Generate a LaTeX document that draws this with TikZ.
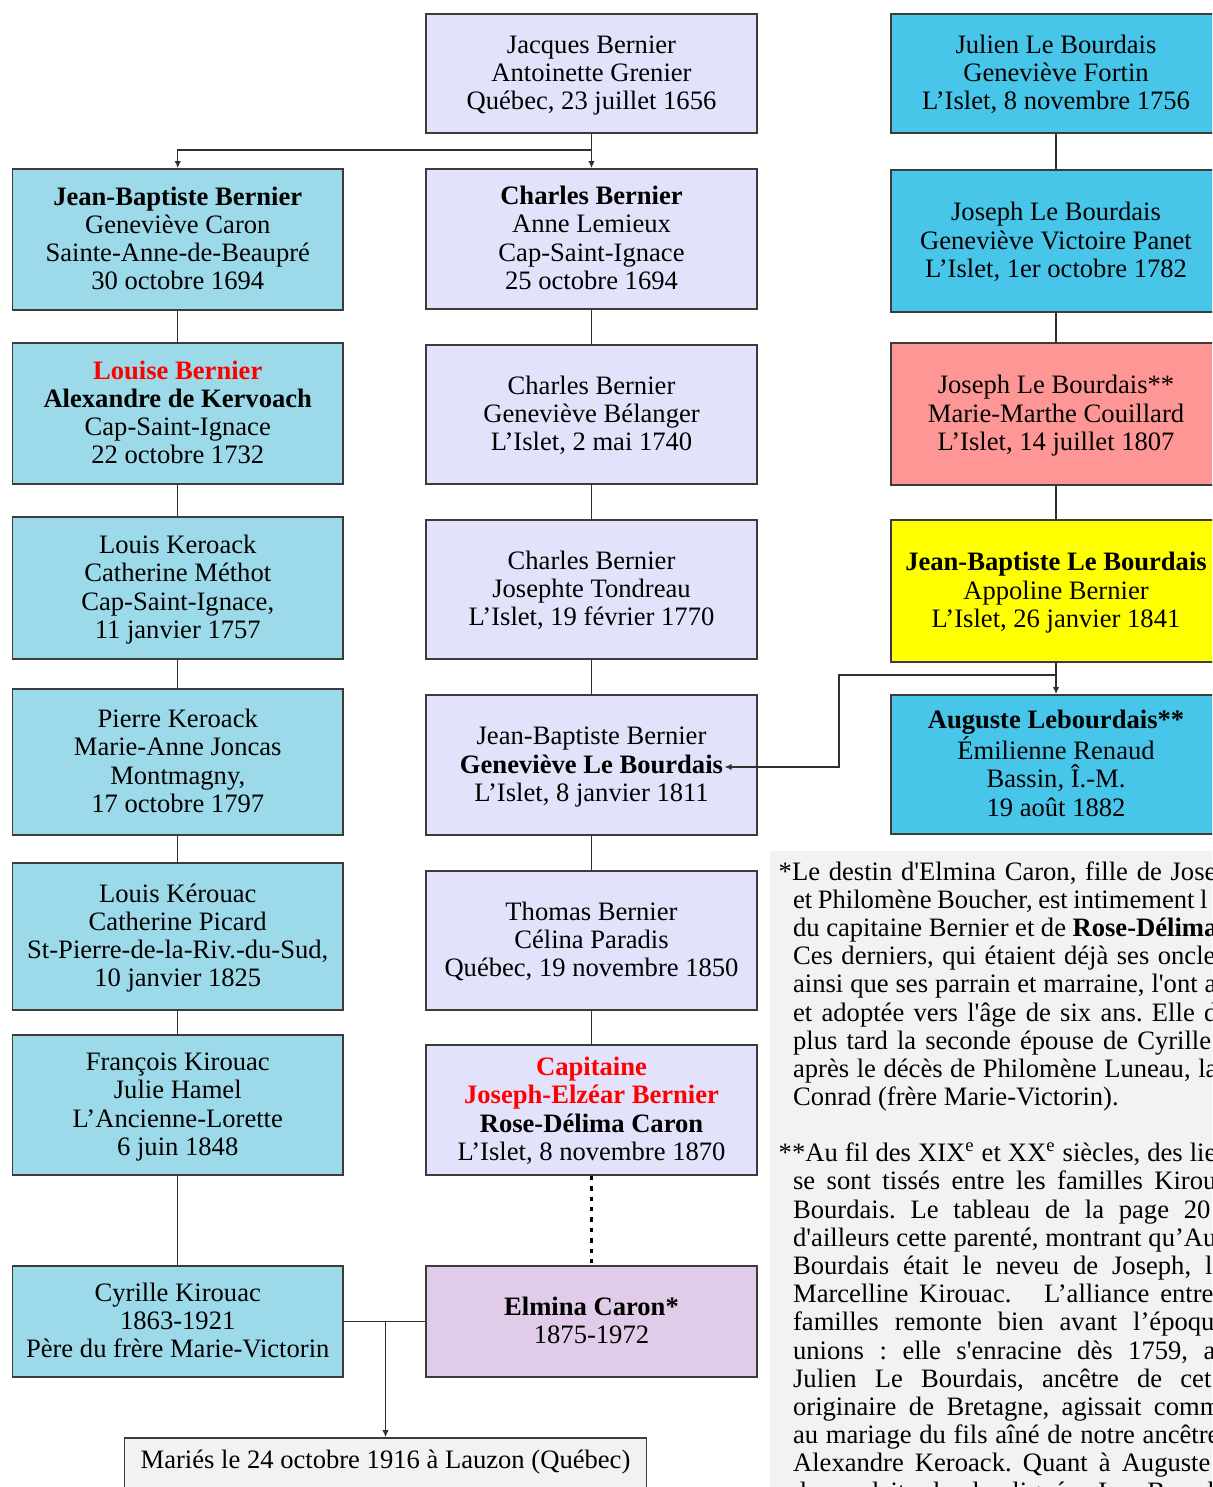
\documentclass[tikz,border=0pt]{standalone}
\usepackage{fontspec}
\setmainfont{Liberation Serif}
\usetikzlibrary{arrows.meta}
\definecolor{cA}{HTML}{9CDAEA}
\definecolor{cB}{HTML}{E2E2FB}
\definecolor{cC}{HTML}{47C6EA}
\definecolor{cPink}{HTML}{FF9696}
\definecolor{cYel}{HTML}{FFFF00}
\definecolor{cEl}{HTML}{E0CBE8}
\definecolor{cGrey}{HTML}{F2F2F2}
\definecolor{bordc}{HTML}{3C3C3C}
\definecolor{linec}{HTML}{303030}
\definecolor{redt}{HTML}{FF0000}
\newcommand\fs{\fontsize{13.3}{14.15}\selectfont\frenchspacing}
\newcommand\sq{\textquotesingle}
\newcommand\rb[1]{\textcolor{redt}{\textbf{#1}}}
\newcommand\ftop{\rule{0pt}{11.5pt}}
\newcommand\fbot{\rule[-3.5pt]{0pt}{3.5pt}}
\begin{document}
\begin{tikzpicture}[x=0.5pt,y=-0.5pt,
  fam/.style={draw=bordc, line width=0.75pt, inner sep=0pt, align=center, font=\fs},
  colA/.style={fam, fill=cA, minimum width=165.25pt},
  colB/.style={fam, fill=cB, minimum width=165.5pt},
  colC/.style={fam, fill=cC, minimum width=165pt},
  conn/.style={draw=linec, line width=0.7pt},
  arr/.style={conn, -{Latex[length=3.6pt,width=3.2pt]}},
  dotl/.style={draw=black, line width=1.85pt, dash pattern=on 2.2pt off 3pt},
  ln/.style={anchor=base west, inner sep=0pt, font=\fs}]
\useasboundingbox (0,0) rectangle (1212,1487);
\fill[white] (0,0) rectangle (1212,1487);
\begin{scope}
\clip (0,0) rectangle (1212,1487);
% ---------- column 1
\node[colA, minimum height=70.5pt] (jb) at (177.75,239.5) {\ftop\textbf{Jean-Baptiste Bernier}\\Geneviève Caron\\Sainte-Anne-de-Beaupré\\30 octobre 1694\fbot};
\node[colA, minimum height=70.5pt] (louise) at (177.75,413.5) {\ftop\rb{Louise Bernier}\\\textbf{Alexandre de Kervoach}\\Cap-Saint-Ignace\\22 octobre 1732\fbot};
\node[colA, minimum height=71pt] (louisk) at (177.75,588) {\ftop Louis Keroack\\Catherine Méthot\\Cap-Saint-Ignace,\\11 janvier 1757\fbot};
\node[colA, minimum height=73pt] (pierre) at (177.75,762) {\ftop Pierre Keroack\\Marie-Anne Joncas\\Montmagny,\\17 octobre 1797\fbot};
\node[colA, minimum height=73.5pt] (lkerouac) at (177.75,936.5) {\ftop Louis Kérouac\\Catherine Picard\\St-Pierre-de-la-Riv.-du-Sud,\\10 janvier 1825\fbot};
\node[colA, minimum height=70pt] (francois) at (177.75,1105) {\ftop François Kirouac\\Julie Hamel\\L’Ancienne-Lorette\\6 juin 1848\fbot};
\node[colA, minimum height=55.5pt] (cyrille) at (177.75,1321.5) {\ftop Cyrille Kirouac\\1863-1921\\Père du frère Marie-Victorin\fbot};
% ---------- column 2
\node[colB, minimum height=59.5pt] (jacques) at (591.5,73.5) {\ftop Jacques Bernier\\Antoinette Grenier\\Québec, 23 juillet 1656\fbot};
\node[colB, minimum height=70pt] (charles) at (591.5,239) {\ftop\textbf{Charles Bernier}\\Anne Lemieux\\Cap-Saint-Ignace\\25 octobre 1694\fbot};
\node[colB, minimum height=69.5pt] (charlesb) at (591.5,414.5) {\ftop Charles Bernier\\Geneviève Bélanger\\L’Islet, 2 mai 1740\fbot};
\node[colB, minimum height=69.5pt] (charlesc) at (591.5,589.5) {\ftop Charles Bernier\\Josephte Tondreau\\L’Islet, 19 février 1770\fbot};
\node[colB, minimum height=70pt] (jbb) at (591.5,765) {\ftop Jean-Baptiste Bernier\\\textbf{Geneviève Le Bourdais}\\L’Islet, 8 janvier 1811\fbot};
\node[colB, minimum height=69.5pt] (thomas) at (591.5,940.5) {\ftop Thomas Bernier\\Célina Paradis\\Québec, 19 novembre 1850\fbot};
\node[colB, minimum height=65pt] (capitaine) at (591.5,1110) {\ftop\rb{Capitaine}\\\rb{Joseph-Elzéar Bernier}\\\textbf{Rose-Délima Caron}\\L’Islet, 8 novembre 1870\fbot};
\node[fam, fill=cEl, minimum width=165.5pt, minimum height=55.5pt] (elmina) at (591.5,1321.5) {\ftop\textbf{Elmina Caron*}\\1875-1972\fbot};
% ---------- column 3
\node[colC, minimum height=59.5pt] (julien) at (1056,73.5) {\ftop Julien Le Bourdais\\Geneviève Fortin\\L’Islet, 8 novembre 1756\fbot};
\node[colC, minimum height=71pt] (joseph) at (1056,241) {\ftop Joseph Le Bourdais\\Geneviève Victoire Panet\\L’Islet, 1er octobre 1782\fbot};
\node[fam, fill=cPink, minimum width=165pt, minimum height=71pt] (josephb) at (1056,414) {\ftop Joseph Le Bourdais**\\Marie-Marthe Couillard\\L’Islet, 14 juillet 1807\fbot};
\node[fam, fill=cYel, minimum width=165pt, minimum height=71pt] (jblb) at (1056,591) {\ftop\textbf{Jean-Baptiste Le Bourdais}\\Appoline Bernier\\L’Islet, 26 janvier 1841\fbot};
\node[colC, minimum height=69.5pt] (auguste) at (1056,764.5) {\ftop\textbf{Auguste Lebourdais**}\\Émilienne Renaud\\Bassin, Î.-M.\\19 août 1882\fbot};
% ---------- marriage box
\node[fam, fill=cGrey, minimum width=261pt, minimum height=36pt] (maries) at (385.5,1474) {};
\node[anchor=base, inner sep=0pt, font=\fs] (mariestext) at (385.5,1468) {Mariés le 24 octobre 1916 à Lauzon (Québec)};
% ---------- connectors
\draw[arr] (jacques.south) -- (charles.north);
\coordinate (br1) at (591.5,150);
\draw[arr] (br1) -| (jb.north);
\draw[conn] (jb.south) -- (louise.north);
\draw[conn] (louise.south) -- (louisk.north);
\draw[conn] (louisk.south) -- (pierre.north);
\draw[conn] (pierre.south) -- (lkerouac.north);
\draw[conn] (lkerouac.south) -- (francois.north);
\draw[conn] (francois.south) -- (cyrille.north);
\draw[conn] (charles.south) -- (charlesb.north);
\draw[conn] (charlesb.south) -- (charlesc.north);
\draw[conn] (charlesc.south) -- (jbb.north);
\draw[conn] (jbb.south) -- (thomas.north);
\draw[conn] (thomas.south) -- (capitaine.north);
\draw[dotl] (capitaine.south) -- (elmina.north);
\draw[conn] (julien.south) -- (joseph.north);
\draw[conn] (joseph.south) -- (josephb.north);
\draw[conn] (josephb.south) -- (jblb.north);
\draw[arr] (jblb.south) -- (auguste.north);
\coordinate (br2) at (1056,675);
\coordinate (kink) at (839,767);
\coordinate (glb) at (724.5,767);
\draw[arr] (br2) -| (kink) -- (glb);
\draw[conn] (cyrille.east) -- (elmina.west);
\coordinate (br3) at (385.5,1321.5);
\draw[arr] (br3) -- (maries.north);
% ---------- notes
\fill[cGrey] (770,851) rectangle (1230,1500);
\node[ln] (n1) at (778.3,880) {\makebox[218.85pt][s]{*Le destin d\sq Elmina Caron, fille de Jose}};
\node[ln] (n2) at (792.7,908.2) {\makebox[207.15pt][s]{et Philomène Boucher, est intimement l}};
\node[ln] (n3) at (792.7,936.4) {\makebox[212.15pt][s]{du capitaine Bernier et de \textbf{Rose-Délima}}};
\node[ln] (n4) at (792.7,964.6) {\makebox[211.15pt][s]{Ces derniers, qui étaient déjà ses oncle}};
\node[ln] (n5) at (792.7,992.8) {\makebox[211.65pt][s]{ainsi que ses parrain et marraine, l\sq ont a}};
\node[ln] (n6) at (792.7,1021) {\makebox[212.15pt][s]{et adoptée vers l\sq âge de six ans. Elle d}};
\node[ln] (n7) at (792.7,1049.2) {\makebox[209pt][s]{plus tard la seconde épouse de Cyrille}};
\node[ln] (n8) at (792.7,1077.4) {\makebox[212.15pt][s]{après le décès de Philomène Luneau, la}};
\node[ln] (n9) at (792.7,1105.6) {Conrad (frère Marie-Victorin).};
\node[ln] (m1) at (778.3,1161.7) {\makebox[218.85pt][s]{**Au fil des XIX\textsuperscript{e} et XX\textsuperscript{e} siècles, des lie}};
\node[ln] (m2) at (792.7,1189.9) {\makebox[211.65pt][s]{se sont tissés entre les familles Kirou}};
\node[ln] (m3) at (792.7,1218.1) {\makebox[208.65pt][s]{Bourdais. Le tableau de la page 20}};
\node[ln] (m4) at (792.7,1246.3) {\makebox[211.65pt][s]{d\sq ailleurs cette parenté, montrant qu’Au}};
\node[ln] (m5) at (792.7,1274.5) {\makebox[209.65pt][s]{Bourdais était le neveu de Joseph, l}};
\node[ln] (m6) at (792.7,1302.7) {\makebox[210.15pt][s]{Marcelline Kirouac.~~~L’alliance entre}};
\node[ln] (m7) at (792.7,1330.9) {\makebox[210.65pt][s]{familles remonte bien avant l’époqu}};
\node[ln] (m8) at (792.7,1359.1) {\makebox[211.15pt][s]{unions : elle s\sq enracine dès 1759, a}};
\node[ln] (m9) at (792.7,1387.3) {\makebox[209.15pt][s]{Julien Le Bourdais, ancêtre de cet}};
\node[ln] (m10) at (792.7,1415.5) {\makebox[213.65pt][s]{originaire de Bretagne, agissait comm}};
\node[ln] (m11) at (792.7,1443.7) {\makebox[213.15pt][s]{au mariage du fils aîné de notre ancêtre}};
\node[ln] (m12) at (792.7,1471.9) {\makebox[208.65pt][s]{Alexandre Keroack. Quant à Auguste}};
\node[ln] (m13) at (792.7,1500.1) {\makebox[225.15pt][s]{descendait de la lignée Le Bourdais}};
\end{scope}
\end{tikzpicture}
\end{document}
